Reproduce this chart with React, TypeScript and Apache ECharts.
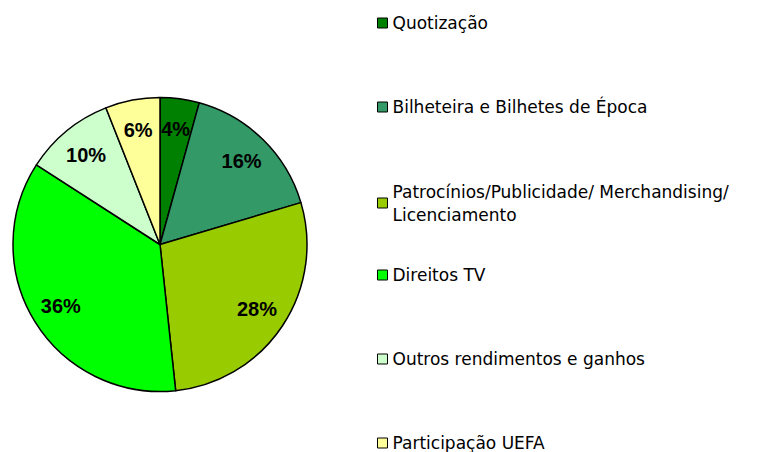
import React, { useEffect, useRef } from "react";
import * as echarts from "echarts";

const categories = [
  "Quotização",
  "Bilheteira e Bilhetes de Época",
  "Patrocínios/Publicidade/ Merchandising/\nLicenciamento",
  "Direitos TV",
  "Outros rendimentos e ganhos",
  "Participação UEFA",
];
const values = [4.3, 16.1, 27.9, 35.8, 9.9, 6.0];
const colors = ["#008000", "#339966", "#99CC00", "#00FF00", "#CCFFCC", "#FFFF99"];

// legend first-line centres (layout)
const legendCenters = [23, 107, 191, 275, 359, 443];
const LINE_H = 23;

export default function App() {
  const ref = useRef<HTMLDivElement>(null);
  useEffect(() => {
    if (!ref.current) return;
    const chart = echarts.init(ref.current, null, { renderer: "svg" });
    const data = categories.map((name, i) => ({
      name,
      value: values[i],
      itemStyle: { color: colors[i] },
    }));
    const legends = categories.map((name, i) => {
      const multi = name.includes("\n");
      const offset = multi ? LINE_H * 1.5 - 12 : LINE_H / 2;
      return {
        show: true,
        orient: "vertical" as const,
        left: 377,
        top: legendCenters[i] - offset,
        padding: 0,
        itemWidth: 10,
        itemHeight: 10,
        itemGap: 5,
        icon: "rect",
        selectedMode: false,
        data: [name],
        itemStyle: { borderColor: "#000", borderWidth: 1 },
        textStyle: {
          fontFamily: "DejaVu Sans, sans-serif",
          fontSize: 17,
          color: "#000",
          lineHeight: LINE_H,
          padding: multi ? [LINE_H, 0, 0, 0] : 0,
        },
      };
    });
    chart.setOption({
      animation: false,
      backgroundColor: "#fff",
      legend: legends,
      series: [
        {
          type: "pie",
          center: [160, 244.5],
          radius: [0, 147],
          startAngle: 90,
          clockwise: true,
          avoidLabelOverlap: false,
          silent: true,
          label: { show: false },
          labelLine: { show: false },
          itemStyle: { borderColor: "#000", borderWidth: 1.5 },
          data,
        },
        {
          type: "pie",
          center: [160, 244.5],
          radius: [80, 147],
          startAngle: 90,
          clockwise: true,
          avoidLabelOverlap: false,
          silent: true,
          itemStyle: { color: "rgba(0,0,0,0)", borderWidth: 0 },
          label: {
            show: true,
            position: "inside",
            fontFamily: "Liberation Sans, Arial, sans-serif",
            fontWeight: "bold",
            fontSize: 20,
            color: "#000",
            formatter: (p: any) => Math.round(p.percent) + "%",
          },
          labelLine: { show: false },
          data: categories.map((name, i) => ({ name, value: values[i] })),
        },
      ],
    });
    return () => chart.dispose();
  }, []);
  return (
    <div
      ref={ref}
      style={{ position: "fixed", left: 0, top: 0, width: 757, height: 452, background: "#fff" }}
    />
  );
}
